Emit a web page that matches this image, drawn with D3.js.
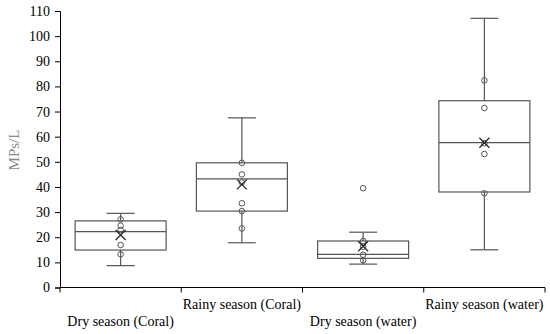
<!DOCTYPE html>
<html><head><meta charset="utf-8">
<script src="https://cdn.jsdelivr.net/npm/d3@7/dist/d3.min.js"></script>
<style>body{margin:0;background:#fff}svg{display:block}</style>
</head><body>
<script>
const categories = ["Dry season (Coral)", "Rainy season (Coral)", "Dry season (water)", "Rainy season (water)"];
const whiskerLow = [8.7, 17.8, 9.3, 15.0];
const q1 = [14.9, 30.4, 11.6, 38.0];
const median = [22.2, 43.2, 13.2, 57.6];
const q3 = [26.5, 49.6, 18.5, 74.3];
const whiskerHigh = [29.5, 67.5, 22.0, 107.1];
const means = [20.9, 41.0, 16.4, 57.6];
const points = [
  [27.1, 24.6, 22.9, 16.9, 13.2],
  [49.6, 45.0, 41.8, 33.5, 30.4, 23.5],
  [39.5, 18.5, 16.2, 13.0, 10.8],
  [82.4, 71.4, 57.4, 53.1, 37.5]
];
const yTicks = [0,10,20,30,40,50,60,70,80,90,100,110];

const W = 550, H = 334;
const m = {left: 60, right: 5, top: 11, bottom: 46.5};
const svg = d3.select("body").append("svg").attr("width", W).attr("height", H);
const x = d3.scaleBand().domain(categories).range([m.left, W - m.right]).paddingInner(0).paddingOuter(0);
const y = d3.scaleLinear().domain([0, 110]).range([H - m.bottom, m.top]);
const font = "'Liberation Serif','Times New Roman',serif";
const lineCol = "#555";

// y axis
const ya = svg.append("g").attr("transform", `translate(${m.left},0)`)
  .call(d3.axisLeft(y).tickValues(yTicks).tickSize(5).tickPadding(5));
ya.selectAll("text").attr("font-family", font).attr("font-size", 14).attr("fill", "#000");
ya.selectAll("line,path").attr("stroke", "#000");

// x axis
const xa = svg.append("g").attr("transform", `translate(0,${y(0)})`);
xa.append("line").attr("x1", m.left).attr("x2", W - m.right).attr("stroke", "#000");
const bounds = categories.map(c => x(c)).concat([W - m.right]);
xa.selectAll("line.t").data(bounds).join("line").attr("class", "t")
  .attr("x1", d => d).attr("x2", d => d).attr("y1", 0).attr("y2", 5).attr("stroke", "#000");
xa.selectAll("text").data(categories).join("text")
  .attr("x", d => x(d) + x.bandwidth() / 2)
  .attr("y", (d, i) => i % 2 === 0 ? 38.5 : 21.5)
  .attr("text-anchor", "middle").attr("font-family", font).attr("font-size", 14).attr("fill", "#000")
  .text(d => d);

// y label
svg.append("text").attr("transform", `translate(19,150) rotate(-90)`)
  .attr("text-anchor", "middle").attr("font-family", font).attr("font-size", 15).attr("fill", "#888")
  .text("MPs/L");

const boxW = 91, capW = 28;
const g = svg.append("g");
categories.forEach((c, i) => {
  const cx = x(c) + x.bandwidth() / 2;
  const gg = g.append("g").attr("stroke", lineCol).attr("fill", "none").attr("stroke-width", 1.2);
  gg.append("line").attr("x1", cx).attr("x2", cx).attr("y1", y(whiskerHigh[i])).attr("y2", y(q3[i]));
  gg.append("line").attr("x1", cx).attr("x2", cx).attr("y1", y(q1[i])).attr("y2", y(whiskerLow[i]));
  gg.append("line").attr("x1", cx - capW/2).attr("x2", cx + capW/2).attr("y1", y(whiskerHigh[i])).attr("y2", y(whiskerHigh[i]));
  gg.append("line").attr("x1", cx - capW/2).attr("x2", cx + capW/2).attr("y1", y(whiskerLow[i])).attr("y2", y(whiskerLow[i]));
  gg.append("rect").attr("x", cx - boxW/2).attr("width", boxW).attr("y", y(q3[i])).attr("height", y(q1[i]) - y(q3[i]));
  gg.append("line").attr("x1", cx - boxW/2).attr("x2", cx + boxW/2).attr("y1", y(median[i])).attr("y2", y(median[i]));
  points[i].forEach(v => {
    gg.append("circle").attr("cx", cx).attr("cy", y(v)).attr("r", 2.8).attr("stroke-width", 1);
  });
  const my = y(means[i]), s = 5;
  gg.append("path").attr("d", `M${cx-s},${my-s}L${cx+s},${my+s}M${cx-s},${my+s}L${cx+s},${my-s}`)
    .attr("stroke", "#222").attr("stroke-width", 1.2);
});
</script>
</body></html>
